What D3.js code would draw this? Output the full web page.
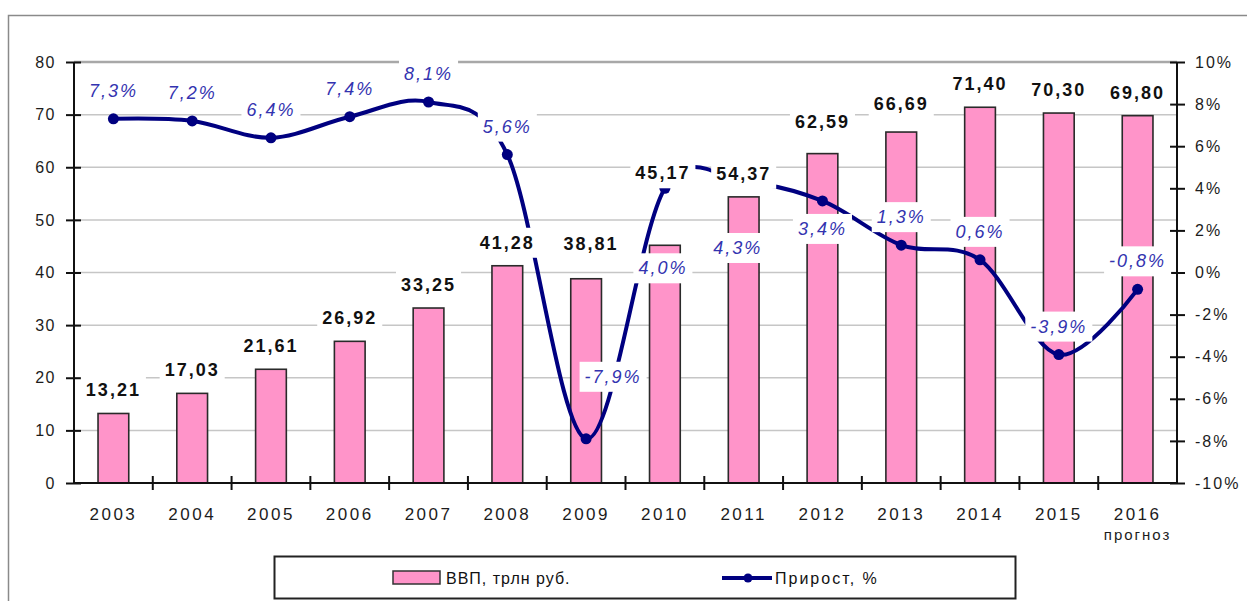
<!DOCTYPE html>
<html>
<head>
<meta charset="utf-8">
<script src="https://cdn.jsdelivr.net/npm/d3@7"></script>
<style>
  body { margin: 0; background: #fff; }
  svg { display: block; font-family: Arial, "Liberation Sans", sans-serif; }
</style>
</head>
<body>
<div id="chart"></div>
<script>
// data
const years = ["2003", "2004", "2005", "2006", "2007", "2008", "2009", "2010", "2011", "2012", "2013", "2014", "2015", "2016"]
const gdp = [13.21, 17.03, 21.61, 26.92, 33.25, 41.28, 38.81, 45.17, 54.37, 62.59, 66.69, 71.40, 70.30, 69.80]
const growth = [7.3, 7.2, 6.4, 7.4, 8.1, 5.6, -7.9, 4.0, 4.3, 3.4, 1.3, 0.6, -3.9, -0.8]
const leftTicks = [0, 10, 20, 30, 40, 50, 60, 70, 80]
const rightTicks = [-10, -8, -6, -4, -2, 0, 2, 4, 6, 8, 10]
const forecastNote = "прогноз"
const legendNames = ["ВВП, трлн руб.", "Прирост, %"]

// hand placed labels (index -> [dx, dy])
const gdpNudge = { 6: [5, -12], 7: [-2, -49], 9: [0, -9], 10: [0, -5] }
const growthNudge = { 6: [27, -34], 7: [-2, 108], 8: [-6, 94], 9: [0, 56] }

const W = 1247, H = 601
const plotL = 74, plotR = 1177, plotT = 62, plotB = 483

const ru = d3.formatLocale({ decimal: ",", thousands: " ", grouping: [3], currency: ["", ""], minus: "-" })
const fmt2 = ru.format(".2f")
const fmt1 = ru.format(".1f")

const svg = d3.select("#chart").append("svg")
    .attr("width", W)
    .attr("height", H)

// outer chart border
svg.append("path")
    .attr("d", `M8.5,${H} V15.5 H${W}`)
    .attr("fill", "none")
    .attr("stroke", "#8a8a8a")
    .attr("stroke-width", 1.5)

const x = d3.scaleBand().domain(years).range([plotL, plotR])
const y = d3.scaleLinear().domain([0, 80]).range([plotB, plotT])
const y2 = d3.scaleLinear().domain([-10, 10]).range([plotB, plotT])
const barW = x.bandwidth() * 0.39

// gridlines
svg.append("g")
    .selectAll("line")
    .data(leftTicks.filter(d => d > 0 && d < 80))
    .join("line")
    .attr("x1", plotL).attr("x2", plotR)
    .attr("y1", d => y(d)).attr("y2", d => y(d))
    .attr("stroke", "#c6c6c6")
    .attr("stroke-width", 1.5)

svg.append("line")
    .attr("x1", plotL).attr("x2", plotR)
    .attr("y1", y(80)).attr("y2", y(80))
    .attr("stroke", "#a8a8a8")
    .attr("stroke-width", 2.5)

// bars
svg.append("g")
    .selectAll("rect")
    .data(gdp)
    .join("rect")
    .attr("x", (d, i) => x(years[i]) + (x.bandwidth() - barW) / 2)
    .attr("y", d => y(d))
    .attr("width", barW)
    .attr("height", d => y(0) - y(d))
    .attr("fill", "#ff94c9")
    .attr("stroke", "#2a2a2a")
    .attr("stroke-width", 1.6)

// axes
const leftAxis = svg.append("g")
    .attr("transform", `translate(${plotL},0)`)
    .call(d3.axisLeft(y).tickValues(leftTicks).tickSize(8).tickFormat(d3.format("d")))
const rightAxis = svg.append("g")
    .attr("transform", `translate(${plotR},0)`)
    .call(d3.axisRight(y2).tickValues(rightTicks).tickSize(8).tickFormat(d => ru.format("d")(d) + "%"))
const bottomAxis = svg.append("g")
    .attr("transform", `translate(0,${plotB})`)
    .call(d3.axisBottom(x).tickSize(0).tickFormat(d => d))

for (const g of [leftAxis, rightAxis, bottomAxis]) {
    g.select(".domain").attr("stroke", "#111").attr("stroke-width", 2)
    g.selectAll(".tick line").attr("stroke", "#111").attr("stroke-width", 2)
    g.selectAll(".tick text")
        .attr("fill", "#1c1c1c")
        .style("font-size", "16px")
        .style("letter-spacing", "1.5px")
}
leftAxis.selectAll(".tick line").attr("x1", 7)
leftAxis.selectAll(".tick text").attr("x", -18)
rightAxis.selectAll(".tick line").attr("x1", -7)
rightAxis.selectAll(".tick text").attr("x", 18).style("letter-spacing", "2px")
leftAxis.select(".domain").attr("d", `M0,${plotT}V${plotB}`)
rightAxis.select(".domain").attr("d", `M0,${plotT}V${plotB}`)
bottomAxis.select(".domain").attr("d", `M${plotL},0H${plotR}`)
bottomAxis.selectAll(".tick text")
    .attr("y", 25)
    .style("font-size", "17px")
    .style("letter-spacing", "2.5px")

// category separators on the x axis
svg.append("g")
    .selectAll("line")
    .data(years.slice(1))
    .join("line")
    .attr("x1", d => x(d)).attr("x2", d => x(d))
    .attr("y1", plotB - 7).attr("y2", plotB + 7)
    .attr("stroke", "#111")
    .attr("stroke-width", 2)

svg.append("text")
    .attr("x", x(years[13]) + x.bandwidth() / 2)
    .attr("y", 540)
    .attr("text-anchor", "middle")
    .attr("fill", "#1c1c1c")
    .style("font-size", "15px")
    .style("letter-spacing", "2px")
    .text(forecastNote)

// growth line
const cx = i => x(years[i]) + x.bandwidth() / 2
const line = d3.line()
    .x((d, i) => cx(i))
    .y(d => y2(d))
    .curve(d3.curveCatmullRom.alpha(0))

svg.append("path")
    .datum(growth)
    .attr("d", line)
    .attr("fill", "none")
    .attr("stroke", "#000080")
    .attr("stroke-width", 4)

svg.append("g")
    .selectAll("circle")
    .data(growth)
    .join("circle")
    .attr("cx", (d, i) => cx(i))
    .attr("cy", d => y2(d))
    .attr("r", 5.5)
    .attr("fill", "#000080")

// labels with white boxes, drawn last
const addLabel = (g, tx, ty, txt, style) => {
    const t = g.append("text")
        .attr("x", tx)
        .attr("y", ty)
        .attr("text-anchor", "middle")
        .attr("dominant-baseline", "central")
        .attr("fill", style.color)
        .style("font-size", style.size)
        .style("font-weight", style.weight)
        .style("font-style", style.italic ? "italic" : "normal")
        .style("letter-spacing", style.spacing)
        .text(txt)
    const b = t.node().getBBox()
    g.insert("rect", "text")
        .attr("x", b.x - 5)
        .attr("y", b.y - 5)
        .attr("width", b.width + 10)
        .attr("height", b.height + 10)
        .attr("fill", "#fff")
}

const labels = svg.append("g")
gdp.forEach((v, i) => {
    const [dx, dy] = gdpNudge[i] || [0, 0]
    const g = labels.append("g")
    addLabel(g, cx(i) + dx, y(v) - 23 + dy, fmt2(v),
        { color: "#111", size: "18px", weight: "bold", spacing: "2px" })
})
growth.forEach((v, i) => {
    const [dx, dy] = growthNudge[i] || [0, 0]
    const g = labels.append("g")
    addLabel(g, cx(i) + dx, y2(v) - 28 + dy, fmt1(v) + "%",
        { color: "#3333b0", size: "18px", weight: "normal", italic: true, spacing: "2px" })
})

// legend
const lg = svg.append("g")
lg.append("rect")
    .attr("x", 274.5).attr("y", 556.5)
    .attr("width", 741).attr("height", 42)
    .attr("fill", "#fff")
    .attr("stroke", "#222")
    .attr("stroke-width", 2)
lg.append("rect")
    .attr("x", 393).attr("y", 571)
    .attr("width", 47).attr("height", 13)
    .attr("fill", "#ff94c9")
    .attr("stroke", "#333")
    .attr("stroke-width", 1.5)
lg.append("text")
    .attr("x", 446).attr("y", 578)
    .attr("dominant-baseline", "central")
    .attr("fill", "#111")
    .style("font-size", "16px")
    .style("letter-spacing", "1px")
    .text(legendNames[0])
lg.append("line")
    .attr("x1", 722).attr("x2", 772)
    .attr("y1", 578).attr("y2", 578)
    .attr("stroke", "#000080")
    .attr("stroke-width", 4)
lg.append("circle")
    .attr("cx", 748).attr("cy", 578).attr("r", 4.5)
    .attr("fill", "#000080")
lg.append("text")
    .attr("x", 775).attr("y", 578)
    .attr("dominant-baseline", "central")
    .attr("fill", "#111")
    .style("font-size", "16px")
    .style("letter-spacing", "2px")
    .text(legendNames[1])
</script>
</body>
</html>
